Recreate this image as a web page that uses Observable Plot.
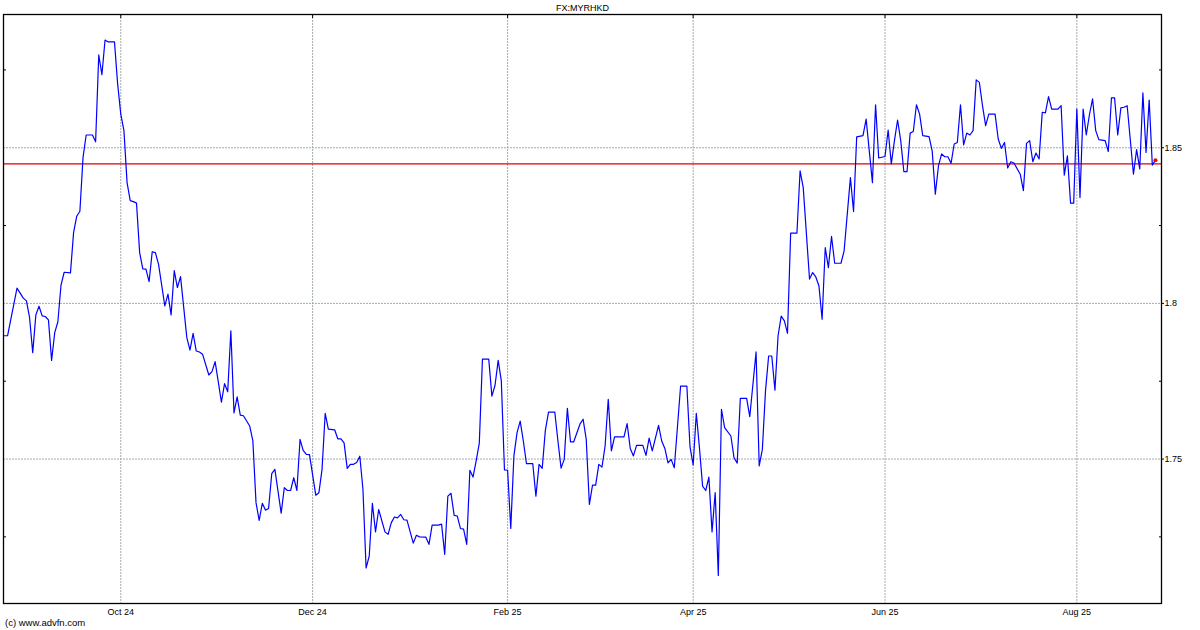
<!DOCTYPE html>
<html>
<head>
<meta charset="utf-8">
<script src="https://cdn.jsdelivr.net/npm/d3@7"></script>
<script src="https://cdn.jsdelivr.net/npm/@observablehq/plot@0.6"></script>
<style>
  html, body { margin: 0; padding: 0; background: #fff; }
  #chart { width: 1200px; height: 630px; }
</style>
</head>
<body>
<div id="chart"></div>
<script>
const title = "FX:MYRHKD";
const credit = "(c) www.advfn.com";

const dates = [
"2024-08-25","2024-08-26","2024-08-29","2024-08-31","2024-09-01","2024-09-02","2024-09-03","2024-09-04","2024-09-05","2024-09-06",
"2024-09-07","2024-09-08","2024-09-09","2024-09-10","2024-09-11","2024-09-12","2024-09-13","2024-09-15","2024-09-16","2024-09-17",
"2024-09-18","2024-09-19","2024-09-20","2024-09-22","2024-09-23","2024-09-24","2024-09-25","2024-09-26","2024-09-27","2024-09-29",
"2024-09-30","2024-10-01","2024-10-02","2024-10-03","2024-10-04","2024-10-05","2024-10-06","2024-10-07","2024-10-08","2024-10-09",
"2024-10-10","2024-10-11","2024-10-12","2024-10-13","2024-10-15","2024-10-16","2024-10-17","2024-10-18","2024-10-19","2024-10-20",
"2024-10-22","2024-10-23","2024-10-24","2024-10-25","2024-10-26","2024-10-27","2024-10-29","2024-10-30","2024-10-31","2024-11-02",
"2024-11-03","2024-11-04","2024-11-05","2024-11-06","2024-11-07","2024-11-08","2024-11-09","2024-11-11","2024-11-12","2024-11-13",
"2024-11-14","2024-11-15","2024-11-16","2024-11-17","2024-11-18","2024-11-19","2024-11-21","2024-11-22","2024-11-23","2024-11-24",
"2024-11-25","2024-11-26","2024-11-27","2024-11-28","2024-11-29","2024-11-30","2024-12-02","2024-12-03","2024-12-04","2024-12-05",
"2024-12-06","2024-12-08","2024-12-09","2024-12-10","2024-12-11","2024-12-12","2024-12-13","2024-12-14","2024-12-15","2024-12-16",
"2024-12-17","2024-12-18","2024-12-19","2024-12-20","2024-12-21","2024-12-22","2024-12-24","2024-12-25","2024-12-26","2024-12-27",
"2024-12-28","2024-12-29","2024-12-30","2024-12-31","2025-01-02","2025-01-03","2025-01-04","2025-01-06","2025-01-07","2025-01-08",
"2025-01-10","2025-01-11","2025-01-12","2025-01-13","2025-01-14","2025-01-15","2025-01-16","2025-01-17","2025-01-18","2025-01-19",
"2025-01-20","2025-01-21","2025-01-22","2025-01-23","2025-01-24","2025-01-26","2025-01-27","2025-01-28","2025-01-29","2025-01-30",
"2025-01-31","2025-02-01","2025-02-02","2025-02-03","2025-02-04","2025-02-05","2025-02-06","2025-02-07","2025-02-09","2025-02-10",
"2025-02-11","2025-02-12","2025-02-13","2025-02-14","2025-02-16","2025-02-17","2025-02-18","2025-02-19","2025-02-20","2025-02-21",
"2025-02-22","2025-02-24","2025-02-25","2025-02-26","2025-02-27","2025-02-28","2025-03-01","2025-03-02","2025-03-03","2025-03-04",
"2025-03-05","2025-03-06","2025-03-07","2025-03-10","2025-03-11","2025-03-12","2025-03-13","2025-03-14","2025-03-16","2025-03-17",
"2025-03-18","2025-03-19","2025-03-21","2025-03-22","2025-03-23","2025-03-24","2025-03-25","2025-03-26","2025-03-28","2025-03-30",
"2025-03-31","2025-04-01","2025-04-02","2025-04-03","2025-04-04","2025-04-05","2025-04-06","2025-04-07","2025-04-08","2025-04-09",
"2025-04-10","2025-04-11","2025-04-13","2025-04-14","2025-04-15","2025-04-16","2025-04-18","2025-04-19","2025-04-21","2025-04-22",
"2025-04-23","2025-04-24","2025-04-25","2025-04-26","2025-04-27","2025-04-28","2025-04-29","2025-04-30","2025-05-01","2025-05-02",
"2025-05-04","2025-05-05","2025-05-06","2025-05-08","2025-05-09","2025-05-10","2025-05-11","2025-05-12","2025-05-13","2025-05-14",
"2025-05-15","2025-05-16","2025-05-18","2025-05-19","2025-05-21","2025-05-22","2025-05-23","2025-05-25","2025-05-26","2025-05-27",
"2025-05-28","2025-05-29","2025-05-30","2025-06-01","2025-06-02","2025-06-03","2025-06-04","2025-06-05","2025-06-06","2025-06-07",
"2025-06-08","2025-06-09","2025-06-10","2025-06-11","2025-06-12","2025-06-13","2025-06-15","2025-06-16","2025-06-17","2025-06-18",
"2025-06-19","2025-06-20","2025-06-21","2025-06-22","2025-06-23","2025-06-24","2025-06-25","2025-06-26","2025-06-27","2025-06-28",
"2025-06-29","2025-06-30","2025-07-01","2025-07-02","2025-07-03","2025-07-04","2025-07-06","2025-07-07","2025-07-08","2025-07-09",
"2025-07-10","2025-07-11","2025-07-12","2025-07-14","2025-07-15","2025-07-16","2025-07-17","2025-07-18","2025-07-19","2025-07-20",
"2025-07-21","2025-07-22","2025-07-23","2025-07-24","2025-07-26","2025-07-27","2025-07-28","2025-07-29","2025-07-30","2025-07-31",
"2025-08-01","2025-08-02","2025-08-03","2025-08-04","2025-08-05","2025-08-06","2025-08-07","2025-08-08","2025-08-10","2025-08-11",
"2025-08-12","2025-08-13","2025-08-14","2025-08-15","2025-08-16","2025-08-17","2025-08-19","2025-08-20","2025-08-21","2025-08-22",
"2025-08-23","2025-08-24","2025-08-25","2025-08-26"
];

const rates = [
1.7896,1.7896,1.8049,1.8017,1.8008,1.7954,1.7842,1.7963,1.7991,1.7960,
1.7958,1.7947,1.7817,1.7906,1.7941,1.8059,1.8100,1.8098,1.8228,1.8280,
1.8296,1.8469,1.8541,1.8541,1.8519,1.8798,1.8735,1.8846,1.8840,1.8840,
1.8705,1.8608,1.8555,1.8388,1.8330,1.8327,1.8322,1.8163,1.8111,1.8110,
1.8070,1.8166,1.8163,1.8126,1.7992,1.8030,1.7963,1.8105,1.8051,1.8086,
1.7890,1.7850,1.7904,1.7847,1.7844,1.7837,1.7770,1.7781,1.7813,1.7683,
1.7742,1.7716,1.7912,1.7648,1.7700,1.7641,1.7639,1.7606,1.7558,1.7360,
1.7303,1.7358,1.7336,1.7341,1.7453,1.7467,1.7326,1.7408,1.7399,1.7399,
1.7440,1.7399,1.7563,1.7528,1.7515,1.7514,1.7384,1.7392,1.7467,1.7647,
1.7596,1.7594,1.7565,1.7565,1.7552,1.7470,1.7483,1.7483,1.7489,1.7509,
1.7403,1.7150,1.7188,1.7358,1.7266,1.7338,1.7266,1.7258,1.7295,1.7314,
1.7311,1.7322,1.7305,1.7304,1.7230,1.7255,1.7250,1.7249,1.7226,1.7288,
1.7288,1.7291,1.7194,1.7381,1.7390,1.7319,1.7317,1.7277,1.7275,1.7226,
1.7464,1.7442,1.7494,1.7551,1.7821,1.7821,1.7702,1.7737,1.7817,1.7751,
1.7465,1.7464,1.7277,1.7510,1.7585,1.7622,1.7558,1.7485,1.7485,1.7381,
1.7483,1.7470,1.7592,1.7651,1.7651,1.7558,1.7471,1.7499,1.7663,1.7555,
1.7555,1.7612,1.7628,1.7563,1.7354,1.7416,1.7416,1.7483,1.7474,1.7542,
1.7692,1.7526,1.7571,1.7571,1.7614,1.7534,1.7510,1.7544,1.7544,1.7512,
1.7567,1.7526,1.7608,1.7558,1.7534,1.7488,1.7499,1.7472,1.7734,1.7734,
1.7539,1.7481,1.7647,1.7536,1.7413,1.7399,1.7442,1.7266,1.7392,1.7126,
1.7660,1.7601,1.7574,1.7504,1.7487,1.7695,1.7695,1.7636,1.7844,1.7478,
1.7531,1.7719,1.7831,1.7831,1.7721,1.7896,1.7959,1.7944,1.7904,1.8226,
1.8226,1.8426,1.8372,1.8078,1.8099,1.8085,1.8056,1.7949,1.8179,1.8115,
1.8215,1.8129,1.8129,1.8169,1.8404,1.8295,1.8535,1.8539,1.8592,1.8490,
1.8388,1.8638,1.8467,1.8472,1.8557,1.8448,1.8523,1.8589,1.8523,1.8423,
1.8423,1.8547,1.8552,1.8638,1.8608,1.8539,1.8536,1.8490,1.8351,1.8442,
1.8480,1.8471,1.8471,1.8450,1.8512,1.8517,1.8638,1.8509,1.8547,1.8541,
1.8555,1.8718,1.8710,1.8635,1.8571,1.8608,1.8608,1.8528,1.8498,1.8517,
1.8435,1.8455,1.8451,1.8415,1.8362,1.8514,1.8523,1.8455,1.8483,1.8464,
1.8614,1.8612,1.8664,1.8624,1.8624,1.8635,1.8412,1.8474,1.8322,1.8322,
1.8624,1.8340,1.8624,1.8541,1.8606,1.8657,1.8555,1.8526,1.8523,1.8488,
1.8660,1.8660,1.8541,1.8628,1.8630,1.8635,1.8415,1.8494,1.8432,1.8676,
1.8485,1.8653,1.8444,1.8460
];

const referenceLevel = 1.8448;
const monthTicks = ["2024-10-01","2024-12-01","2025-02-01","2025-04-01","2025-06-01","2025-08-01"];
const yTicks = [1.75, 1.8, 1.85];
const yMinorTicks = [1.725, 1.775, 1.825, 1.875];
const xDomain = ["2024-08-24T17:00:00Z", "2025-08-27T22:00:00Z"];
const yDomain = [1.7036, 1.8928];

const rows = dates.map((d, i) => ({date: new Date(d), value: rates[i]}));
const last = rows[rows.length - 1];
const tickDates = monthTicks.map(d => new Date(d));

const gridStyle = {stroke: "#a3abab", strokeOpacity: 1, strokeDasharray: "2,1", strokeWidth: 1};

const chart = Plot.plot({
  width: 1200,
  height: 630,
  marginLeft: 3,
  marginRight: 39,
  marginTop: 14,
  marginBottom: 27,
  style: {fontFamily: "'Liberation Sans', Arial, sans-serif", fontSize: "9px", color: "#000", background: "#fff"},
  x: {type: "utc", domain: xDomain.map(d => new Date(d))},
  y: {domain: yDomain},
  marks: [
    Plot.gridX(tickDates, gridStyle),
    Plot.gridY(yTicks, gridStyle),
    Plot.ruleY([referenceLevel], {stroke: "#e00000", strokeWidth: 1.2}),
    Plot.line(rows, {x: "date", y: "value", stroke: "#0000ff", strokeWidth: 1.2}),
    Plot.dot([last], {x: "date", y: "value", r: 2, fill: "#ff0000", stroke: null}),
    Plot.frame({stroke: "#000", strokeWidth: 1.3}),
    Plot.axisX(tickDates, {anchor: "bottom", tickSize: 0, tickPadding: 5, tickFormat: d3.utcFormat("%b %y"), fontSize: 9}),
    Plot.axisX(tickDates, {anchor: "top", tickSize: 3, dy: 3, tickFormat: () => "", label: null}),
    Plot.axisY(yTicks, {anchor: "right", tickSize: 2, tickPadding: 1, tickFormat: d => String(d), fontSize: 9, label: null}),
    Plot.axisY(yMinorTicks, {anchor: "right", tickSize: 3, dx: -3, tickFormat: () => "", label: null}),
    Plot.axisY(yMinorTicks, {anchor: "left", tickSize: 3, dx: 3, tickFormat: () => "", label: null}),
    Plot.text([title], {frameAnchor: "top", lineAnchor: "middle", dy: -6, fontSize: 9, fill: "#000"}),
    Plot.text([credit], {frameAnchor: "bottom-left", lineAnchor: "middle", textAnchor: "start", dx: 1.5, dy: 19.5, fontSize: 9.5, fill: "#000"})
  ]
});

document.getElementById("chart").appendChild(chart);
</script>
</body>
</html>
